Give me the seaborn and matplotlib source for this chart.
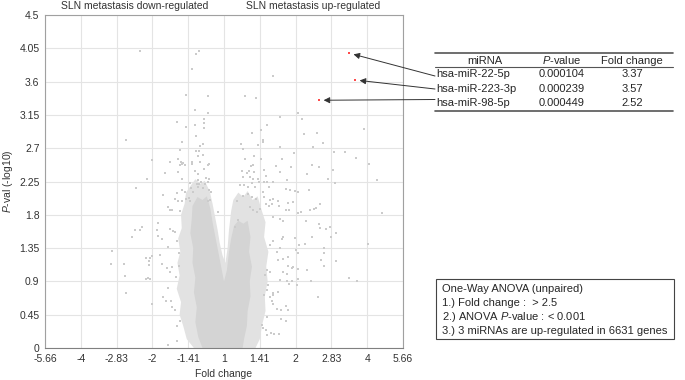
import matplotlib
matplotlib.use('Agg')
import matplotlib.pyplot as plt
import matplotlib.transforms as mtransforms
from matplotlib.patches import Rectangle
import seaborn as sns
import pandas as pd
import numpy as np

# grey miRNAs: x = log2 fold change, y = -log10 p
gray_x = [
    -1.18, -0.35, -0.39, -0.45, -0.53, -0.23, 0.30, 0.45, 0.68, -0.40,
    -0.22, -0.66, -0.28, -0.28, -0.41, -0.53, -0.28, 0.39, 1.04, 1.09,
    0.78, 0.60, 0.52, 1.12, 1.30, 1.95,
    -1.37, -0.39, -0.58, -0.30, -0.34, -0.62, -0.39, -0.35, -0.36, -0.29,
    -1.01, -0.75, -0.64, -0.60, -0.57, -0.59, -0.62, -0.45, -0.44, -0.55,
    -0.34, -0.21, -0.23, -0.83, -0.64, -0.40, -0.37, -0.28, -0.59, -1.07,
    -0.48, -0.37, -0.32, -0.35, -0.38, -0.25, -0.21, -0.23, -0.27, -1.23,
    -0.37, -0.30, -0.46, -0.43, -0.21, -0.18, -0.59, -0.55, -0.66, -0.85,
    -0.69, -0.64, -0.58, -0.53, -0.49, -0.47, -0.20, -0.22, 0.18, -0.78,
    -0.76, -0.72, -0.62, -0.92, -1.24, -1.18, -1.14, -1.29, -0.94, -0.75,
    -0.71, -0.68, -0.92, -0.08, 0.20, 0.15,
    0.24, 0.26, 0.47, 0.54, 0.54, 0.78, 1.24, 1.38, 0.98, 1.54,
    1.69, 1.84, 2.03, 0.29, 0.42, 0.52, 0.81, 1.23, 0.38, 0.40,
    0.73, 0.94, 1.32, 0.25, 0.32, 0.35, 0.42, 0.56, 0.78, 1.16,
    1.52, 0.59, 0.27, 0.36, 0.41, 0.48, 0.49, 1.45, 2.14, 0.56,
    0.60, 0.68, 0.88, 1.55, 0.22, 0.28, 0.33, 0.39, 0.43, 0.63,
    0.86, 0.92, 0.99, 1.04, 1.19, 0.26, 0.33, 0.39, 0.45, 0.54,
    0.56, 0.64, 0.69, 0.76, 0.67, 0.90, 0.97, 0.59, 0.63, 0.77,
    0.86, 0.91, 1.34, 1.20, 1.28, 1.25, 1.04, 1.07, 2.21, 0.36,
    0.41, 0.46, 0.50, 0.69, 0.78, 0.83, 1.15, 1.33, 1.34, 1.43,
    1.48, 1.57, 1.23, 0.99, 0.82,
    -1.57, -1.58, -1.39, -1.38, -1.37, -1.09, -1.04, -1.01, -1.05, -1.05,
    -1.09, -1.06, -1.03, -0.89, -0.87, -1.01, -0.85, -0.81, -0.74, -0.80,
    -0.75, -0.72, -0.78, -0.65, -0.615, -0.78, -0.65, -0.68, -0.73, -0.87,
    -0.78, -0.63, -0.65, -0.63, -0.67,
    1.13, 1.50, 2.01, 1.05, 1.00, 1.04, 1.39, 1.40, 1.35, 1.57,
    1.39, 1.16, 1.03, 1.22, 1.04, 1.75, 1.86, 1.31, 0.90, 0.95,
    0.97, 0.83, 0.88, 0.78, 0.88, 0.95, 0.91, 1.02, 0.83, 0.90,
    0.76, 0.74, 0.78, 0.64, 0.69, 0.81, 0.76, 0.68, 0.87, 0.90,
    0.80, 0.74, 0.67, 0.68, 0.60, 0.80, 0.86, 0.66, 0.70, 0.77,
    0.59, 0.60, 0.53, 0.55, 0.60, 0.64, 0.57, 0.62, 0.60, 0.56,
    0.64, 0.69,
]
gray_y = [
    4.01, 4.01, 3.97, 3.77, 3.42, 3.41, 3.41, 3.38, 3.67, 3.22,
    3.17, 3.06, 3.09, 3.04, 3.02, 2.98, 2.97, 2.91, 3.17, 3.10,
    3.12, 3.01, 2.94, 2.89, 2.91, 2.96,
    2.81, 2.86, 2.78, 2.76, 2.73, 2.67, 2.66, 2.66, 2.60, 2.61,
    2.54, 2.52, 2.55, 2.52, 2.50, 2.48, 2.47, 2.52, 2.48, 2.47,
    2.52, 2.48, 2.47, 2.37, 2.38, 2.39, 2.35, 2.42, 2.28, 2.29,
    2.23, 2.27, 2.24, 2.22, 2.21, 2.30, 2.29, 2.25, 2.22, 2.16,
    2.17, 2.16, 2.16, 2.11, 2.13, 2.11, 2.14, 2.11, 2.09, 2.07,
    2.01, 1.99, 1.98, 2.02, 2.03, 1.98, 2.00, 1.98, 1.99, 1.91,
    1.87, 1.86, 1.85, 1.69, 1.60, 1.60, 1.64, 1.50, 1.60, 1.61,
    1.58, 1.57, 1.52, 1.84, 1.73, 1.64,
    2.76, 2.69, 2.74, 2.81, 2.78, 2.72, 2.72, 2.77, 2.64, 2.65,
    2.65, 2.57, 2.48, 2.56, 2.60, 2.56, 2.56, 2.47, 2.46, 2.47,
    2.46, 2.44, 2.44, 2.39, 2.37, 2.39, 2.38, 2.41, 2.38, 2.35,
    2.40, 2.33, 2.31, 2.31, 2.28, 2.28, 2.25, 2.28, 2.27, 2.25,
    2.24, 2.24, 2.27, 2.23, 2.20, 2.20, 2.18, 2.23, 2.18, 2.18,
    2.15, 2.13, 2.12, 2.11, 2.14, 2.05, 2.08, 2.04, 2.02, 2.11,
    2.04, 2.00, 2.02, 1.99, 1.95, 1.96, 1.97, 1.95, 1.92, 1.92,
    1.87, 1.87, 1.95, 1.86, 1.89, 1.88, 1.83, 1.84, 1.83, 1.91,
    1.86, 1.84, 1.88, 1.77, 1.74, 1.72, 1.72, 1.67, 1.62, 1.61,
    1.64, 1.55, 1.50, 1.48, 1.50,
    1.31, 1.14, 1.14, 0.97, 0.74, 1.21, 1.22, 1.25, 1.17, 1.12,
    0.93, 0.95, 0.93, 1.26, 1.13, 0.60, 0.69, 0.64, 0.63, 1.08,
    1.03, 1.10, 0.81, 0.30, 0.36, 0.04, 0.09, 0.51, 0.56, 1.47,
    1.37, 1.28, 1.44, 1.11, 0.96,
    1.41, 1.50, 1.40, 1.39, 1.32, 1.29, 1.35, 1.29, 1.19, 1.18,
    1.11, 1.06, 1.07, 0.91, 0.93, 0.95, 0.90, 0.69, 1.11, 1.08,
    1.10, 1.03, 1.00, 0.92, 0.91, 0.90, 0.86, 0.85, 1.20, 1.23,
    1.19, 1.30, 1.35, 1.39, 1.44, 1.47, 0.76, 0.75, 0.57, 0.52,
    0.52, 0.53, 0.63, 0.60, 0.42, 0.39, 0.37, 0.20, 0.19, 0.19,
    0.24, 0.17, 0.31, 0.27, 1.05, 1.03, 0.99, 0.85, 0.78, 0.72,
    0.69, 0.72,
]

# the centre of the cloud holds thousands of overlapping dots; it is drawn
# as two outlines: a speckled band and the solid core
band_x = [-0.42, -0.52, -0.57, -0.62, -0.60, -0.66, -0.62, -0.65, -0.61, -0.64,
          -0.59, -0.60, -0.55, -0.53, -0.46, -0.40, -0.33, -0.27, -0.20, -0.16,
          -0.13, -0.09, -0.06, -0.02, 0.02, 0.05, 0.07, 0.10, 0.13, 0.20,
          0.27, 0.33, 0.40, 0.47, 0.52, 0.58, 0.56, 0.62, 0.59, 0.61,
          0.57, 0.58, 0.53, 0.50, 0.44]
band_y = [0.00, 0.12, 0.30, 0.45, 0.62, 0.80, 0.98, 1.15, 1.30, 1.48,
          1.62, 1.80, 1.95, 2.10, 2.20, 2.28, 2.22, 2.26, 2.12, 1.95,
          1.80, 1.60, 1.42, 1.25, 1.15, 1.35, 1.60, 1.85, 2.00, 2.10,
          2.04, 2.12, 2.00, 2.05, 1.88, 1.70, 1.50, 1.30, 1.10, 0.90,
          0.70, 0.50, 0.30, 0.12, 0.00]
core_x = [-0.30, -0.36, -0.40, -0.38, -0.42, -0.40, -0.44, -0.43, -0.47, -0.45,
          -0.44, -0.37, -0.30, -0.24, -0.19, -0.16, -0.12, -0.08, -0.04, 0.00,
          0.04, 0.07, 0.10, 0.14, 0.20, 0.27, 0.33, 0.37, 0.35, 0.39,
          0.36, 0.37, 0.33, 0.32, 0.28, 0.26]
core_y = [0.00, 0.15, 0.35, 0.55, 0.75, 0.95, 1.15, 1.35, 1.55, 1.75,
          1.92, 2.04, 2.00, 2.05, 1.88, 1.70, 1.50, 1.30, 1.10, 0.90,
          1.05, 1.30, 1.48, 1.65, 1.72, 1.68, 1.72, 1.50, 1.30, 1.10,
          0.90, 0.70, 0.50, 0.30, 0.12, 0.00]

mirna = ['hsa-miR-22-5p', 'hsa-miR-223-3p', 'hsa-miR-98-5p']
pvalue = [0.000104, 0.000239, 0.000449]
fold = [3.37, 3.57, 2.52]

xtick_pos = [-2.5, -2, -1.5, -1, -0.5, 0, 0.5, 1, 1.5, 2, 2.5]
xtick_lab = ['-5.66', '-4', '-2.83', '-2', '-1.41', '1', '1.41', '2', '2.83', '4', '5.66']
ytick_pos = [0, 0.45, 0.9, 1.35, 1.8, 2.25, 2.7, 3.15, 3.6, 4.05, 4.5]
ytick_lab = ['0', '0.45', '0.9', '1.35', '1.8', '2.25', '2.7', '3.15', '3.6', '4.05', '4.5']

sns.set_style('white')
plt.rcParams['font.family'] = ['Liberation Sans', 'DejaVu Sans']
plt.rcParams['mathtext.fontset'] = 'custom'
plt.rcParams['mathtext.rm'] = 'Liberation Sans'
plt.rcParams['mathtext.it'] = 'Liberation Sans:italic'

red = pd.DataFrame({'x': np.log2(fold), 'y': -np.log10(pvalue)})

fig = plt.figure(figsize=(6.85, 3.8), dpi=100)
ax = fig.add_axes([45 / 685, 32 / 380, 358 / 685, 333 / 380])
# overlay in pixel units for the table and the note box
ov = fig.add_axes([0, 0, 1, 1])
ov.set_xlim(0, 685)
ov.set_ylim(380, 0)
ov.axis('off')
ov.patch.set_visible(False)

ax.fill(band_x, band_y, color='#e2e2e2', lw=0, zorder=2)
ax.fill(core_x, core_y, color='#d4d4d4', lw=0, zorder=2)
sns.scatterplot(x=gray_x, y=gray_y, ax=ax, color='#cbcbcb', s=3, marker='s',
                linewidth=0, zorder=3)
sns.scatterplot(data=red, x='x', y='y', ax=ax, color='#ff4a4a', s=4, marker='s',
                linewidth=0, zorder=4)

ax.set_xlim(-2.5, 2.5)
ax.set_ylim(0, 4.5)
ax.set_xticks(xtick_pos)
ax.set_xticklabels(xtick_lab)
ax.set_yticks(ytick_pos)
ax.set_yticklabels(ytick_lab)
ax.grid(True, color='#e4e4e4', lw=0.8)
ax.set_axisbelow(True)
ax.tick_params(length=0, labelsize=7.5, colors='#333333', pad=4)
for s in ax.spines.values():
    s.set_color('#a0a0a0')
    s.set_linewidth(0.8)
ax.spines['bottom'].set_color('#808080')
ax.set_xlabel('Fold change', fontsize=7.5, color='#333333', labelpad=4)
ax.set_ylabel('$P$-val (-log10)', fontsize=7.5, color='#333333', labelpad=3)

trans = mtransforms.blended_transform_factory(ax.transData, ax.transAxes)
ax.text(-1.25, 1.028, 'SLN metastasis down-regulated', transform=trans,
        ha='center', va='center', fontsize=7.5, color='#333333')
ax.text(1.25, 1.028, 'SLN metastasis up-regulated', transform=trans,
        ha='center', va='center', fontsize=7.5, color='#333333')

# table
ov.plot([435, 673], [53, 53], color='#555555', lw=1.2)
ov.plot([435, 673], [67, 67], color='#555555', lw=0.8)
ov.plot([435, 673], [110.5, 110.5], color='#555555', lw=1.2)
ov.text(485, 60.5, 'miRNA', ha='center', va='center', fontsize=8)
ov.text(562, 60.5, '$P$-value', ha='center', va='center', fontsize=8)
ov.text(632, 60.5, 'Fold change', ha='center', va='center', fontsize=8)
row_y = [74, 88.5, 103]
tail_y = [76, 89, 99.5]
for i in range(len(mirna)):
    ov.text(436, row_y[i], mirna[i], ha='left', va='center', fontsize=8)
    ov.text(562, row_y[i], '%.6f' % pvalue[i], ha='center', va='center', fontsize=8)
    ov.text(632, row_y[i], '%.2f' % fold[i], ha='center', va='center', fontsize=8)
    ax.annotate('', xy=(red.x[i], red.y[i]), xycoords='data',
                xytext=(435, tail_y[i]), textcoords=ov.transData,
                arrowprops=dict(arrowstyle='-|>', color='#333333', lw=0.7,
                                shrinkA=0, shrinkB=3, mutation_scale=9))

# note box
ov.add_patch(Rectangle((436, 279), 238, 60, fill=False, ec='#444444', lw=0.8))
notes = ['One-Way ANOVA (unpaired)',
         '1.) Fold change :  > 2.5',
         '2.) ANOVA $P$-value : < 0.001',
         '3.) 3 miRNAs are up-regulated in 6631 genes']
for i, t in enumerate(notes):
    ov.text(442, 289 + 14 * i, t, ha='left', va='center', fontsize=8)

fig.savefig('out.png', dpi=100)
